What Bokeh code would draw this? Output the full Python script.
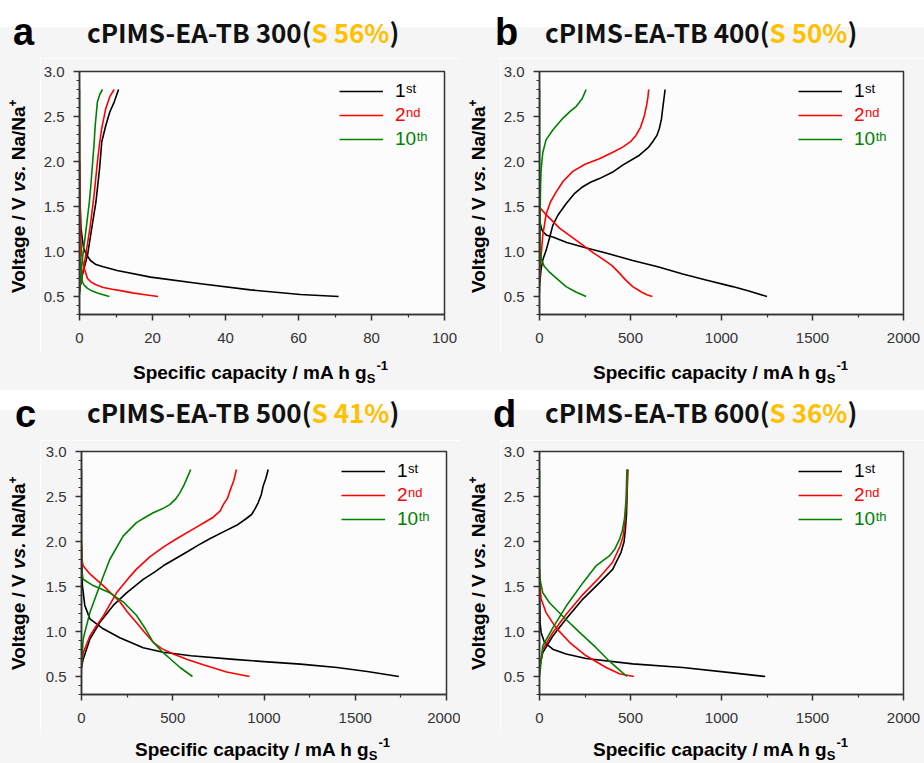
from bokeh.plotting import figure
from bokeh.models import (FixedTicker, PrintfTickFormatter, Label, Legend, LegendItem,
                          Range1d, Div)
from bokeh.layouts import row, column
from bokeh.embed import file_html
from bokeh.resources import INLINE

# ---------------- data ----------------
cycle_main = ["1", "2", "10"]
cycle_sup = ["st", "nd", "th"]
cycle_colors = ["#000000", "#FF0000", "#008000"]

y_major = [0.5, 1.0, 1.5, 2.0, 2.5, 3.0]
y_minor = [0.3, 0.4, 0.6, 0.7, 0.8, 0.9, 1.1, 1.2, 1.3, 1.4, 1.6, 1.7, 1.8, 1.9,
           2.1, 2.2, 2.3, 2.4, 2.6, 2.7, 2.8, 2.9]
xa_major = [0, 20, 40, 60, 80, 100]
xa_minor = [10, 30, 50, 70, 90]
xb_major = [0, 500, 1000, 1500, 2000]
xb_minor = [250, 750, 1250, 1750]

titles = ["cPIMS-EA-TB 300", "cPIMS-EA-TB 400", "cPIMS-EA-TB 500", "cPIMS-EA-TB 600"]
sulfur = ["S 56%", "S 50%", "S 41%", "S 36%"]
letters = ["a", "b", "c", "d"]

# panel a (300)
a1_dis_x = [0, 0.1, 0.4, 1.1, 1.6, 2.0, 2.5, 3.0, 4.5, 6.5, 10.3, 19.5, 33.2, 46.8, 60.5, 71.0]
a1_dis_v = [2.0, 1.6, 1.26, 1.04, 0.99, 0.96, 0.93, 0.90, 0.855, 0.83, 0.789, 0.715, 0.641,
            0.574, 0.522, 0.50]
a1_chg_x = [0, 0.1, 0.8, 2.2, 3.4, 4.5, 5.5, 6.1, 7.2, 8.3, 9.5, 10.7]
a1_chg_v = [0.55, 0.59, 0.74, 0.96, 1.27, 1.55, 1.92, 2.22, 2.40, 2.55, 2.66, 2.80]
a2_dis_x = [0, 0.05, 0.15, 0.3, 0.5, 0.9, 1.3, 2.2, 3.2, 4.5, 6.5, 9.0, 12.0, 14.5, 18.0, 21.5]
a2_dis_v = [2.45, 2.0, 1.6, 1.25, 1.0, 0.88, 0.81, 0.70, 0.66, 0.63, 0.60, 0.58, 0.56, 0.54, 0.52, 0.50]
a2_chg_x = [0, 0.1, 0.6, 1.7, 2.9, 4.0, 4.9, 5.5, 6.1, 7.2, 8.3, 9.5]
a2_chg_v = [0.55, 0.60, 0.70, 0.96, 1.27, 1.63, 1.99, 2.20, 2.37, 2.59, 2.72, 2.80]
a10_dis_x = [0, 0, 0.05, 0.2, 0.5, 0.8, 1.4, 2.2, 3.5, 4.9, 6.5, 8.2]
a10_dis_v = [2.8, 1.5, 1.1, 0.9, 0.75, 0.66, 0.62, 0.59, 0.56, 0.54, 0.52, 0.50]
a10_chg_x = [0, 0.2, 0.7, 1.6, 2.7, 3.2, 3.6, 4.0, 4.3, 4.9, 5.6, 6.3]
a10_chg_v = [0.52, 0.66, 0.89, 1.18, 1.55, 1.78, 1.99, 2.20, 2.40, 2.66, 2.75, 2.80]

# panel b (400)
b1_dis_x = [0, 3, 10, 18, 40, 73, 150, 238, 370, 512, 650, 787, 920, 1061, 1150, 1250]
b1_dis_v = [1.45, 1.33, 1.26, 1.22, 1.18, 1.16, 1.10, 1.05, 0.98, 0.90, 0.83, 0.75, 0.68,
            0.61, 0.56, 0.50]
b1_chg_x = [0, 9, 20, 36, 55, 73, 100, 146, 190, 238, 280, 329, 400, 457, 549, 600, 622, 645,
            659, 670, 677, 684, 690]
b1_chg_v = [0.62, 0.81, 0.92, 1.01, 1.15, 1.29, 1.40, 1.53, 1.64, 1.72, 1.77, 1.81, 1.88,
            1.96, 2.07, 2.16, 2.22, 2.29, 2.37, 2.47, 2.59, 2.70, 2.80]
b2_dis_x = [0, 5, 36, 110, 238, 300, 366, 400, 439, 470, 512, 560, 590, 620]
b2_dis_v = [1.52, 1.48, 1.41, 1.26, 1.07, 0.98, 0.89, 0.84, 0.76, 0.69, 0.61, 0.55, 0.52, 0.50]
b2_chg_x = [0, 5, 18, 36, 60, 91, 130, 183, 250, 329, 400, 457, 500, 530, 555, 575, 589, 596, 600]
b2_chg_v = [0.65, 0.85, 1.18, 1.41, 1.55, 1.66, 1.78, 1.89, 1.97, 2.03, 2.10, 2.16, 2.22, 2.29,
            2.38, 2.50, 2.63, 2.72, 2.80]
b10_dis_x = [0, 0, 2, 9, 25, 55, 100, 146, 200, 256]
b10_dis_v = [2.8, 1.3, 1.05, 0.92, 0.84, 0.77, 0.69, 0.61, 0.55, 0.50]
b10_chg_x = [0, 2, 4, 6, 9, 18, 36, 73, 128, 170, 201, 235, 256]
b10_chg_v = [0.55, 1.0, 1.5, 1.75, 1.91, 2.10, 2.24, 2.35, 2.48, 2.56, 2.61, 2.70, 2.80]

# panel c (500)
c1_dis_x = [0, 2, 5, 18, 46, 119, 210, 338, 448, 600, 835, 1000, 1200, 1400, 1566, 1739]
c1_dis_v = [1.95, 1.75, 1.51, 1.29, 1.14, 1.03, 0.93, 0.82, 0.77, 0.73, 0.69, 0.665, 0.638,
            0.60, 0.556, 0.50]
c1_chg_x = [0, 9, 46, 100, 174, 247, 338, 400, 448, 575, 640, 703, 780, 850, 900, 932,
            950, 968, 985, 996, 1010, 1023]
c1_chg_v = [0.60, 0.69, 0.917, 1.10, 1.29, 1.43, 1.58, 1.66, 1.73, 1.88, 1.96, 2.03,
            2.11, 2.18, 2.25, 2.30, 2.36, 2.43, 2.52, 2.62, 2.70, 2.80]
c2_dis_x = [0, 2, 9, 46, 119, 210, 250, 301, 350, 393, 440, 503, 580, 667, 795, 920]
c2_dis_v = [2.0, 1.8, 1.73, 1.64, 1.51, 1.33, 1.22, 1.10, 0.98, 0.88, 0.81, 0.75, 0.69, 0.63,
            0.55, 0.50]
c2_chg_x = [0, 9, 46, 80, 119, 192, 265, 300, 374, 450, 521, 630, 680, 722, 760, 777, 800, 813,
            835, 849]
c2_chg_v = [0.60, 0.76, 0.95, 1.06, 1.17, 1.43, 1.61, 1.69, 1.83, 1.94, 2.03, 2.16, 2.22,
            2.27, 2.34, 2.41, 2.48, 2.56, 2.68, 2.80]
c10_dis_x = [0, 0, 9, 64, 155, 228, 301, 350, 393, 440, 484, 540, 608]
c10_dis_v = [2.8, 1.7, 1.58, 1.51, 1.43, 1.33, 1.18, 1.03, 0.88, 0.78, 0.70, 0.60, 0.50]
c10_chg_x = [0, 9, 46, 100, 155, 228, 301, 350, 393, 440, 484, 515, 539, 560, 575, 590, 598]
c10_chg_v = [0.60, 0.917, 1.21, 1.51, 1.80, 2.06, 2.21, 2.27, 2.32, 2.36, 2.41, 2.47, 2.54,
             2.62, 2.69, 2.76, 2.80]

# panel d (600)
d1_dis_x = [0, 3, 9, 27, 73, 146, 256, 512, 787, 1061, 1240]
d1_dis_v = [1.5, 1.1, 0.99, 0.88, 0.804, 0.75, 0.70, 0.64, 0.60, 0.54, 0.50]
d1_chg_x = [0, 18, 73, 146, 238, 329, 402, 448, 465, 472, 478, 481, 483, 485]
d1_chg_v = [0.60, 0.767, 0.95, 1.14, 1.36, 1.54, 1.69, 1.88, 2.0, 2.14, 2.30, 2.51, 2.65, 2.80]
d2_dis_x = [0, 3, 9, 36, 91, 165, 256, 366, 439, 518]
d2_dis_v = [1.7, 1.5, 1.36, 1.21, 1.04, 0.88, 0.73, 0.60, 0.53, 0.50]
d2_chg_x = [0, 18, 73, 146, 238, 329, 402, 443, 460, 467, 474, 480, 482, 484]
d2_chg_v = [0.60, 0.80, 0.99, 1.19, 1.41, 1.60, 1.77, 1.95, 2.06, 2.18, 2.33, 2.51, 2.65, 2.80]
d10_dis_x = [0, 0, 3, 18, 55, 128, 220, 311, 384, 440, 481]
d10_dis_v = [2.8, 1.7, 1.58, 1.43, 1.32, 1.17, 0.99, 0.82, 0.67, 0.57, 0.50]
d10_chg_x = [0, 18, 73, 146, 238, 311, 350, 384, 415, 439, 455, 467, 475, 478, 480]
d10_chg_v = [0.50, 0.84, 1.04, 1.28, 1.54, 1.73, 1.79, 1.84, 1.92, 2.02, 2.12, 2.25, 2.45,
             2.62, 2.80]

panel_curves = [
    [(a1_dis_x, a1_dis_v, a1_chg_x, a1_chg_v), (a2_dis_x, a2_dis_v, a2_chg_x, a2_chg_v),
     (a10_dis_x, a10_dis_v, a10_chg_x, a10_chg_v)],
    [(b1_dis_x, b1_dis_v, b1_chg_x, b1_chg_v), (b2_dis_x, b2_dis_v, b2_chg_x, b2_chg_v),
     (b10_dis_x, b10_dis_v, b10_chg_x, b10_chg_v)],
    [(c1_dis_x, c1_dis_v, c1_chg_x, c1_chg_v), (c2_dis_x, c2_dis_v, c2_chg_x, c2_chg_v),
     (c10_dis_x, c10_dis_v, c10_chg_x, c10_chg_v)],
    [(d1_dis_x, d1_dis_v, d1_chg_x, d1_chg_v), (d2_dis_x, d2_dis_v, d2_chg_x, d2_chg_v),
     (d10_dis_x, d10_dis_v, d10_chg_x, d10_chg_v)],
]
panel_xmax = [100, 2000, 2000, 2000]
panel_xmajor = [xa_major, xb_major, xb_major, xb_major]
panel_xminor = [xa_minor, xb_minor, xb_minor, xb_minor]

# ---------------- layout / style ----------------
FONT = "Liberation Sans"
TFONT = "Noto Sans CJK KR"
GOLD = "#FFC000"
BG = "#f5f5f5"
FH = 243
geom = [
    dict(PW=460, YW=40, FW=420, bl=39, br=16, TH=58, white=27, bt=13, bb=40, XH=36,
         lx=13, ltop=13, tx=87, ttop=19, xlx=133, xltop=9, ypad=61),
    dict(PW=464, YW=40, FW=424, bl=39, br=21, TH=58, white=27, bt=13, bb=40, XH=36,
         lx=35, ltop=13, tx=85, ttop=19, xlx=133, xltop=9, ypad=61),
    dict(PW=460, YW=40, FW=420, bl=41, br=14, TH=50, white=20, bt=11, bb=40, XH=29,
         lx=15, ltop=5, tx=87, ttop=9, xlx=135, xltop=6, ypad=64),
    dict(PW=464, YW=40, FW=424, bl=39, br=21, TH=50, white=20, bt=11, bb=40, XH=29,
         lx=33, ltop=5, tx=85, ttop=9, xlx=133, xltop=6, ypad=64),
]


def make_panel(i):
    g = geom[i]
    FHt = g["bt"] + FH + g["bb"]
    p = figure(width=g["FW"], height=FHt, output_backend="svg", toolbar_location=None,
               x_range=Range1d(0, panel_xmax[i]), y_range=Range1d(0.3, 3.0),
               min_border_left=g["bl"], min_border_right=g["br"],
               min_border_top=g["bt"], min_border_bottom=g["bb"],
               background_fill_color="#fcfcfc", border_fill_color=BG,
               outline_line_color="#333333", outline_line_width=1.5)
    p.grid.visible = False
    p.xaxis.ticker = FixedTicker(ticks=panel_xmajor[i], minor_ticks=panel_xminor[i])
    p.yaxis.ticker = FixedTicker(ticks=y_major, minor_ticks=y_minor)
    p.xaxis.formatter = PrintfTickFormatter(format="%d")
    p.yaxis.formatter = PrintfTickFormatter(format="%.1f")
    for ax in (p.xaxis[0], p.yaxis[0]):
        ax.axis_line_color = "#333333"
        ax.axis_line_width = 1.5
        ax.major_tick_line_color = "#333333"
        ax.major_tick_line_width = 1.5
        ax.minor_tick_line_color = "#333333"
        ax.minor_tick_line_width = 1.2
        ax.major_tick_in = 0
        ax.major_tick_out = 6
        ax.minor_tick_in = 0
        ax.minor_tick_out = 3
        ax.major_label_text_font = FONT
        ax.major_label_text_font_size = "15px"
        ax.major_label_text_color = "#333333"
    p.xaxis.major_label_standoff = 12
    p.yaxis.major_label_standoff = 9

    rends = []
    for k, (dx, dv, cx, cv) in enumerate(panel_curves[i]):
        r = p.line(dx, dv, line_color=cycle_colors[k], line_width=1.6, line_join="round")
        p.line(cx, cv, line_color=cycle_colors[k], line_width=1.6, line_join="round")
        rends.append(r)

    fw = g["FW"] - g["bl"] - g["br"]
    for k in range(3):
        lg = Legend(items=[LegendItem(label=cycle_main[k], renderers=[rends[k]])],
                    location=(fw - 105, FH - 32 - 24 * k), padding=0, margin=0, spacing=0,
                    border_line_alpha=0, background_fill_alpha=0,
                    glyph_width=44, glyph_height=24, label_height=24, label_standoff=12,
                    label_text_font=FONT, label_text_font_size="19px",
                    label_text_color=cycle_colors[k])
        p.add_layout(lg)
        w = 10.6 * len(cycle_main[k])
        p.add_layout(Label(x=fw - 105 + 56 + w, y=FH - 17 - 24 * k, x_units="screen",
                           y_units="screen", text=cycle_sup[k], text_font=FONT,
                           text_font_size="13px", text_color=cycle_colors[k],
                           text_baseline="alphabetic"))

    # title strip
    title_html = (
        f'<div style="position:relative;width:{g["PW"]}px;height:{g["TH"]}px;'
        f'background:linear-gradient(#ffffff 0px,#ffffff {g["white"]}px,{BG} {g["white"]}px);">'
        f'<span style="position:absolute;left:{g["lx"]}px;top:{g["ltop"]}px;'
        f"font:bold 38px '{FONT}';line-height:38px;color:#000;\">{letters[i]}</span>"
        f'<span style="position:absolute;left:{g["tx"]}px;top:{g["ttop"]}px;white-space:nowrap;'
        f"font:bold 26px '{TFONT}';line-height:26px;color:#111;\">{titles[i]}("
        f'<span style="color:{GOLD}">{sulfur[i]}</span>)</span></div>'
    )
    tdiv = Div(text=title_html, width=g["PW"], height=g["TH"], margin=0,
               styles={"overflow": "hidden"})

    # rotated y label
    L = FHt
    ylab_html = (
        f'<div style="position:relative;width:{g["YW"]}px;height:{L}px;background:{BG};">'
        f'<div style="position:absolute;left:8px;top:0;width:{L}px;height:{g["YW"]}px;'
        f'line-height:{g["YW"]}px;box-sizing:border-box;padding-left:{g["ypad"]}px;'
        f'transform-origin:0 0;transform:rotate(-90deg) translate(-{L}px,0);white-space:nowrap;'
        f"font:bold 19px '{FONT}';color:#000;\">Voltage / V <i>vs.</i> Na/Na"
        f'<span style="font-size:12px;position:relative;top:-8px;">+</span></div></div>'
    )
    ydiv = Div(text=ylab_html, width=g["YW"], height=L, margin=0,
               styles={"overflow": "hidden"})

    # x label
    xlab_html = (
        f'<div style="position:relative;width:{g["PW"]}px;height:{g["XH"]}px;background:{BG};">'
        f'<span style="position:absolute;left:{g["xlx"]}px;top:{g["xltop"]}px;white-space:nowrap;'
        f"font:bold 19px '{FONT}';line-height:19px;color:#000;\">Specific capacity / mA h g"
        f'<span style="font-size:13px;position:relative;top:4px;">S</span>'
        f'<span style="font-size:13px;position:relative;top:-9px;margin-left:1px;">-1</span>'
        f'</span></div>'
    )
    xdiv = Div(text=xlab_html, width=g["PW"], height=g["XH"], margin=0,
               styles={"overflow": "hidden"})

    return column(tdiv, row(ydiv, p, spacing=0), xdiv, spacing=0)


panels = [make_panel(i) for i in range(4)]
layout = column(row(panels[0], panels[1], spacing=0), row(panels[2], panels[3], spacing=0),
                spacing=0)

open("out.html", "w").write(file_html(layout, INLINE))
